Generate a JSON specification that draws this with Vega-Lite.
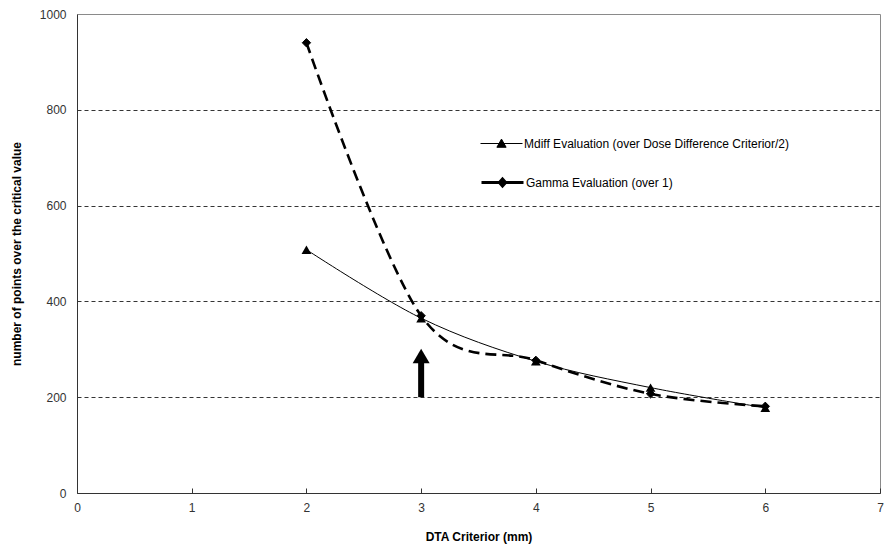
{
  "$schema": "https://vega.github.io/schema/vega-lite/v6.json",
  "width": 803,
  "height": 479,
  "autosize": {"type": "none"},
  "padding": {"left": 77, "top": 14, "right": 6, "bottom": 53},
  "background": "white",
  "config": {
    "view": {"stroke": "#8a8a8a", "strokeWidth": 1},
    "font": "Liberation Sans",
    "axis": {"domainColor": "#333333", "labelColor": "#333333", "labelFont": "Liberation Sans", "labelFontSize": 12, "titleFont": "Liberation Sans", "titleFontSize": 12, "titleFontWeight": "bold", "titleColor": "#000000"},
    "legend": {"labelFont": "Liberation Sans", "labelFontSize": 12, "labelColor": "#000000", "labelLimit": 0, "padding": 0, "orient": "none"}
  },
  "datasets": {
    "series": [
      {"series": "Mdiff Evaluation (over Dose Difference Criterior/2)", "x": 2, "y": 508},
      {"series": "Mdiff Evaluation (over Dose Difference Criterior/2)", "x": 3, "y": 365},
      {"series": "Mdiff Evaluation (over Dose Difference Criterior/2)", "x": 4, "y": 275},
      {"series": "Mdiff Evaluation (over Dose Difference Criterior/2)", "x": 5, "y": 220},
      {"series": "Mdiff Evaluation (over Dose Difference Criterior/2)", "x": 6, "y": 178},
      {"series": "Gamma Evaluation (over 1)", "x": 2, "y": 940},
      {"series": "Gamma Evaluation (over 1)", "x": 3, "y": 370},
      {"series": "Gamma Evaluation (over 1)", "x": 4, "y": 277},
      {"series": "Gamma Evaluation (over 1)", "x": 5, "y": 207},
      {"series": "Gamma Evaluation (over 1)", "x": 6, "y": 181}
    ],
    "arrow": [{"x": 3, "y": 200, "y2": 272, "head": 286}]
  },
  "encoding": {
    "x": {
      "field": "x", "type": "quantitative",
      "scale": {"domain": [0, 7], "nice": false, "zero": false},
      "axis": {"values": [0, 1, 2, 3, 4, 5, 6, 7], "title": "DTA Criterior (mm)", "grid": false, "tickSize": -5, "tickColor": "#333333", "labelPadding": 14, "titlePadding": 18, "labelFlush": false}
    },
    "y": {
      "field": "y", "type": "quantitative",
      "scale": {"domain": [0, 1000], "nice": false},
      "axis": {
        "values": [0, 200, 400, 600, 800, 1000],
        "format": "d",
        "title": "number of points over the critical value",
        "grid": true,
        "gridDash": [4, 3],
        "gridColor": {"condition": {"test": "datum.value === 0 || datum.value === 1000", "value": "transparent"}, "value": "#000000"},
        "gridWidth": 0.8,
        "ticks": false,
        "labelPadding": 11,
        "titlePadding": 16
      }
    }
  },
  "layer": [
    {
      "data": {"name": "series"},
      "transform": [{"filter": "datum.series === 'Mdiff Evaluation (over Dose Difference Criterior/2)'"}],
      "mark": {"type": "line", "interpolate": "cardinal", "color": "#000000", "strokeWidth": 1}
    },
    {
      "data": {"name": "series"},
      "transform": [{"filter": "datum.series === 'Gamma Evaluation (over 1)'"}],
      "mark": {"type": "line", "interpolate": "cardinal", "color": "#000000", "strokeWidth": 2.6, "strokeDash": [11, 6]}
    },
    {
      "data": {"name": "series"},
      "transform": [{"filter": "datum.series === 'Mdiff Evaluation (over Dose Difference Criterior/2)'"}],
      "mark": {"type": "point", "shape": "triangle-up", "filled": true, "color": "#000000", "opacity": 1, "size": 95},
      "encoding": {
        "color": {
          "field": "series", "type": "nominal",
          "scale": {"domain": ["Mdiff Evaluation (over Dose Difference Criterior/2)"], "range": ["#000000"]},
          "legend": {
            "title": null,
            "orient": "none",
            "legendX": 403,
            "legendY": 108,
            "labelOffset": 1,
            "symbolSize": 1764,
            "symbolType": "M-1,0H1M-0.22,0.18L0,-0.21L0.22,0.18Z",
            "symbolStrokeColor": "#000000",
            "symbolFillColor": "#000000",
            "symbolStrokeWidth": 1
          }
        }
      }
    },
    {
      "data": {"name": "series"},
      "transform": [{"filter": "datum.series === 'Gamma Evaluation (over 1)'"}],
      "mark": {"type": "point", "shape": "diamond", "filled": true, "fill": "#000000", "opacity": 1, "size": 70, "strokeWidth": 1},
      "encoding": {
        "stroke": {
          "field": "series", "type": "nominal",
          "scale": {"domain": ["Gamma Evaluation (over 1)"], "range": ["#000000"]},
          "legend": {
            "title": null,
            "orient": "none",
            "legendX": 403,
            "legendY": 146,
            "labelOffset": 1,
            "symbolSize": 1764,
            "symbolType": "M-1,0H1M-0.15,0L0,-0.17L0.15,0L0,0.17Z",
            "symbolStrokeColor": "#000000",
            "symbolFillColor": "#000000",
            "symbolStrokeWidth": 3
          }
        }
      }
    },
    {
      "data": {"name": "arrow"},
      "mark": {"type": "rule", "color": "#000000", "strokeWidth": 6},
      "encoding": {"y2": {"field": "y2"}}
    },
    {
      "data": {"name": "arrow"},
      "mark": {"type": "point", "shape": "triangle-up", "filled": true, "color": "#000000", "opacity": 1, "size": 289},
      "encoding": {"y": {"field": "head", "type": "quantitative", "title": "number of points over the critical value"}}
    }
  ]
}
